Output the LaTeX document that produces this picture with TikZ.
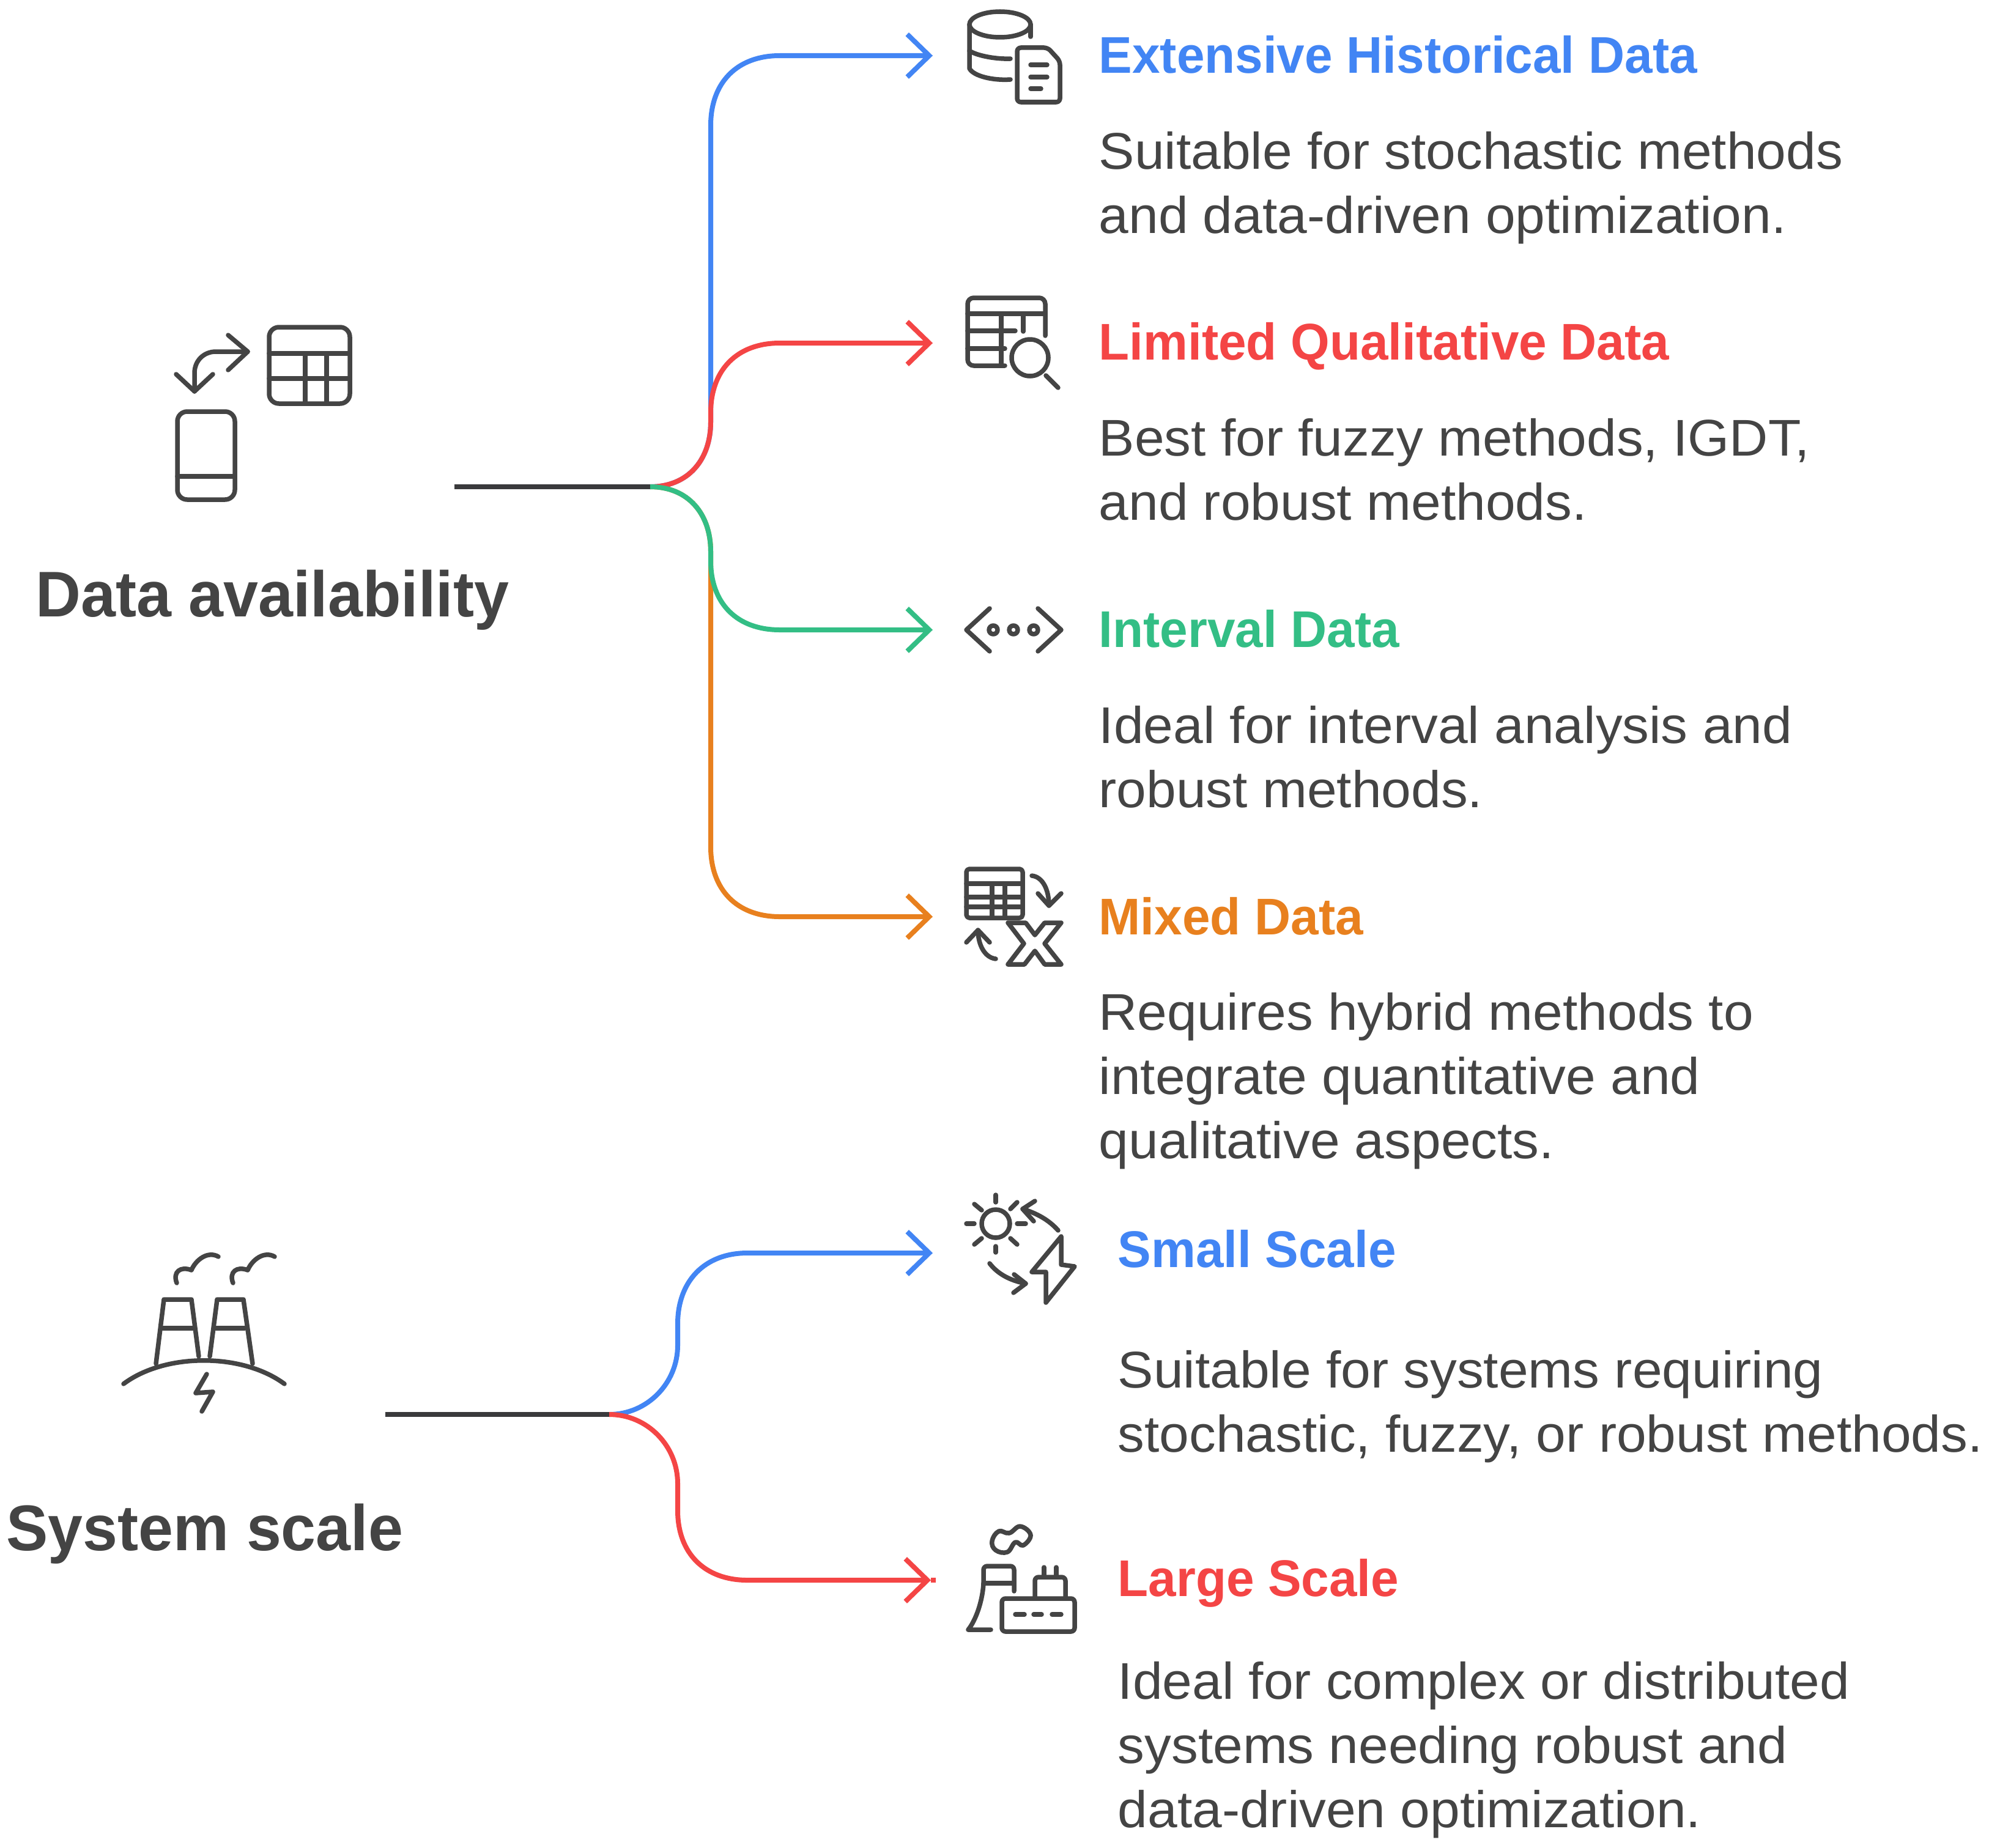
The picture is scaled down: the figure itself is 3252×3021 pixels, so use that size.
\documentclass[tikz,border=0pt]{standalone}
\usepackage{fontspec}
\setmainfont{Liberation Sans}[FakeStretch=1.037]
\newfontfamily\headfont{Liberation Sans Bold}[FakeStretch=0.97]
\usetikzlibrary{arrows.meta,positioning,calc}
\definecolor{icongray}{HTML}{444444}
\definecolor{trunkgray}{HTML}{3A3A3C}
\definecolor{bluebr}{HTML}{4285F4}
\definecolor{redbr}{HTML}{F44545}
\definecolor{greenbr}{HTML}{33BE85}
\definecolor{orangebr}{HTML}{E8801E}
\tikzset{
  iconline/.style={draw=icongray,line width=0.075cm,line cap=round,line join=round},
  branch/.style={line width=0.08cm,-{Straight Barb[length=0.36cm,width=0.7cm,line width=0.08cm]}},
  trunk/.style={draw=trunkgray,line width=0.08cm},
  headtxt/.style={anchor=base west,inner sep=0pt,font=\fontsize{24}{28}\headfont},
  bodytxt/.style={anchor=base west,inner sep=0pt,align=left,text=icongray,font=\fontsize{24}{29.8}\selectfont},
  titletxt/.style={anchor=base west,inner sep=0pt,text=icongray,font=\fontsize{30}{34}\headfont}
}
\begin{document}
\begin{tikzpicture}[x=0.01cm,y=-0.01cm]
  \useasboundingbox (0,0) rectangle (3252,3021);
  % titles on the left
  \node[titletxt] (titleData) at (58,1008) {Data availability};
  \node[titletxt] (titleScale) at (10,2535) {System scale};
  % ends of the connectors
  \coordinate (startData) at (743,796);
  \coordinate (hubData) at (1063,796);
  \coordinate (startScale) at (630,2313);
  \coordinate (hubScale) at (996,2313);
  \coordinate (tipExt) at (1525,91);
  \coordinate (tipLim) at (1525,561);
  \coordinate (tipInt) at (1525,1030);
  \coordinate (tipMix) at (1525,1499);
  \coordinate (tipSmall) at (1525,2049);
  \coordinate (tipLarge) at (1522,2584);
  \coordinate (endLarge) at (1530,2584);
  % upper tree
  \draw[branch,bluebr] (hubData) .. controls +(62,0) and +(0,62) .. (1162,690) -- (1162,205)
    .. controls +(0,-70) and +(-70,0) .. (1275,91) -- (tipExt);
  \draw[branch,orangebr] (hubData) .. controls +(62,0) and +(0,-62) .. (1162,902) -- (1162,1385)
    .. controls +(0,70) and +(-70,0) .. (1275,1499) -- (tipMix);
  \draw[branch,redbr] (hubData) .. controls +(62,0) and +(0,62) .. (1162,690) -- (1162,675)
    .. controls +(0,-70) and +(-70,0) .. (1275,561) -- (tipLim);
  \draw[branch,greenbr] (hubData) .. controls +(62,0) and +(0,-62) .. (1162,902) -- (1162,917)
    .. controls +(0,70) and +(-70,0) .. (1275,1030) -- (tipInt);
  \draw[trunk] (startData) -- (hubData);
  % lower tree
  \draw[branch,bluebr] (hubScale) .. controls +(62,0) and +(0,62) .. (1108,2200) -- (1108,2165)
    .. controls +(0,-70) and +(-70,0) .. (1222,2049) -- (tipSmall);
  \draw[branch,redbr] (hubScale) .. controls +(62,0) and +(0,-62) .. (1108,2426) -- (1108,2470)
    .. controls +(0,70) and +(-70,0) .. (1222,2584) -- (tipLarge);
  \draw[redbr,line width=0.08cm] (tipLarge) -- (endLarge);
  \draw[trunk] (startScale) -- (hubScale);
  % headings and texts of the upper tree
  \node[headtxt,text=bluebr] (headExt) at (1796,120) {Extensive Historical Data};
  \node[bodytxt] (bodyExt) at (1796,381) {Suitable for stochastic methods\\and data-driven optimization.};
  \node[headtxt,text=redbr] (headLim) at (1796,588) {Limited Qualitative Data};
  \node[bodytxt] (bodyLim) at (1796,850) {Best for fuzzy methods, IGDT,\\and robust methods.};
  \node[headtxt,text=greenbr] (headInt) at (1796,1058) {Interval Data};
  \node[bodytxt] (bodyInt) at (1796,1320) {Ideal for interval analysis and\\robust methods.};
  \node[headtxt,text=orangebr] (headMix) at (1796,1528) {Mixed Data};
  \node[bodytxt] (bodyMix) at (1796,1894) {Requires hybrid methods to\\integrate quantitative and\\qualitative aspects.};
  % headings and texts of the lower tree
  \node[headtxt,text=bluebr] (headSmall) at (1827,2072) {Small Scale};
  \node[bodytxt] (bodySmall) at (1827,2374) {Suitable for systems requiring\\stochastic, fuzzy, or robust methods.};
  \node[headtxt,text=redbr] (headLarge) at (1827,2610) {Large Scale};
  \node[bodytxt] (bodyLarge) at (1827,2988) {Ideal for complex or distributed\\systems needing robust and\\data-driven optimization.};
  % icon: phone and table
  \draw[iconline,rounded corners=0.16cm] (440,535) rectangle (572,660);
  \draw[iconline] (440,578) -- (572,578) (440,619) -- (572,619) (499,578) -- (499,660) (534,578) -- (534,660);
  \draw[iconline,rounded corners=0.16cm] (290,673) rectangle (384,817);
  \draw[iconline] (290,779) -- (384,779);
  \draw[iconline] (318,640) -- (318,610) .. controls (318,590) and (333,575) .. (353,575) -- (405,575);
  \draw[iconline] (373,548) -- (405,575) -- (373,605) (288,612) -- (318,640) -- (348,612);
  % icon: database and sheet
  \draw[iconline] (1635,40) ellipse (50 and 21);
  \draw[iconline] (1585,40) -- (1585,112) .. controls (1592,125) and (1625,132) .. (1652,130);
  \draw[iconline] (1585,83) .. controls (1595,90) and (1625,97) .. (1652,96);
  \draw[iconline] (1685,40) -- (1685,60);
  \draw[iconline,rounded corners=0.06cm] (1663,78) -- (1713,78) -- (1733,100) -- (1733,167) -- (1663,167) -- cycle;
  \draw[iconline] (1685,106) -- (1712,106) (1685,126) -- (1712,126) (1685,145) -- (1702,145);
  % icon: table and magnifier
  \draw[iconline,rounded corners=0.1cm] (1643,598) -- (1582,598) -- (1582,487) -- (1709,487) -- (1709,549);
  \draw[iconline] (1582,513) -- (1709,513) (1582,541) -- (1660,541) (1582,570) -- (1643,570) (1637,513) -- (1637,598) (1673,513) -- (1673,542);
  \draw[iconline] (1684,585) circle (30);
  \draw[iconline] (1710,614) -- (1730,634);
  % icon: chevrons and dots
  \draw[iconline] (1618,995) -- (1580,1030) -- (1618,1065) (1697,995) -- (1735,1030) -- (1697,1065);
  \foreach \x in {1624,1657,1690}{\draw[iconline] (\x,1030) circle (7);}
  % icon: table and X
  \draw[iconline,rounded corners=0.05cm] (1580,1421) rectangle (1672,1501);
  \draw[iconline] (1580,1445) -- (1672,1445) (1580,1467) -- (1672,1467) (1580,1483) -- (1672,1483) (1622,1445) -- (1622,1501) (1643,1445) -- (1643,1501);
  \draw[iconline] (1687,1432) .. controls (1705,1434) and (1715,1455) .. (1715,1481);
  \draw[iconline] (1697,1461) -- (1715,1481) -- (1735,1461);
  \draw[iconline] (1628,1568) .. controls (1610,1566) and (1599,1545) .. (1599,1521);
  \draw[iconline] (1580,1541) -- (1599,1521) -- (1618,1541);
  \draw[iconline] (1648,1509) -- (1677,1509) -- (1692,1529) -- (1708,1509) -- (1735,1509) -- (1708,1543) -- (1735,1577) -- (1708,1577) -- (1692,1555) -- (1675,1577) -- (1648,1577) -- (1674,1543) -- cycle;
  % icon: sun and bolt
  \draw[iconline] (1628,2001) circle (23);
  \draw[iconline] (1628,1954) -- (1628,1966) (1628,2038) -- (1628,2048) (1580,2001) -- (1593,2001) (1663,2001) -- (1677,2001);
  \draw[iconline] (1593,1969) -- (1605,1979) (1652,1977) -- (1663,1966) (1593,2035) -- (1605,2025) (1652,2025) -- (1663,2035);
  \draw[iconline] (1730,2012) .. controls (1715,1995) and (1695,1984) .. (1672,1977);
  \draw[iconline] (1692,1964) -- (1672,1977) -- (1690,1997);
  \draw[iconline] (1618,2066) .. controls (1632,2084) and (1652,2094) .. (1677,2099);
  \draw[iconline] (1658,2084) -- (1677,2099) -- (1657,2114);
  \draw[iconline] (1735,2022) -- (1687,2080) -- (1710,2080) -- (1710,2130) -- (1757,2071) -- (1735,2068) -- cycle;
  % icon: plant and plug
  \draw[iconline] plot[smooth cycle,tension=0.7] coordinates {(1622,2520) (1633,2504) (1650,2507) (1668,2496) (1685,2510) (1673,2527) (1660,2522) (1647,2538) (1628,2535)};
  \draw[iconline,rounded corners=0.06cm] (1658,2602) -- (1658,2561) -- (1608,2561) -- (1608,2590);
  \draw[iconline] (1608,2590) .. controls (1606,2620) and (1595,2650) .. (1583,2665) -- (1620,2665);
  \draw[iconline] (1608,2589) -- (1658,2589);
  \draw[iconline,rounded corners=0.06cm] (1638,2614) rectangle (1757,2668);
  \draw[iconline] (1660,2640) -- (1675,2640) (1690,2640) -- (1703,2640) (1720,2640) -- (1735,2640);
  \draw[iconline,rounded corners=0.06cm] (1692,2614) -- (1692,2579) -- (1742,2579) -- (1742,2614);
  \draw[iconline] (1707,2563) -- (1707,2579) (1727,2563) -- (1727,2579);
  % icon: cooling towers
  \draw[iconline] (202,2263) .. controls (270,2212) and (396,2212) .. (465,2263);
  \draw[iconline] (255,2230) -- (268,2125) -- (313,2125) -- (325,2218) (343,2218) -- (355,2125) -- (398,2125) -- (413,2230);
  \draw[iconline] (265,2172) -- (315,2172) (353,2172) -- (400,2172);
  \foreach \x in {0,92}{
    \draw[iconline,xshift=\x*0.01cm] (289,2098) .. controls (282,2080) and (295,2070) .. (313,2077) .. controls (320,2060) and (340,2045) .. (357,2055);
  }
  \draw[iconline] (338,2247) -- (320,2278) -- (348,2276) -- (330,2308);
\end{tikzpicture}
\end{document}
